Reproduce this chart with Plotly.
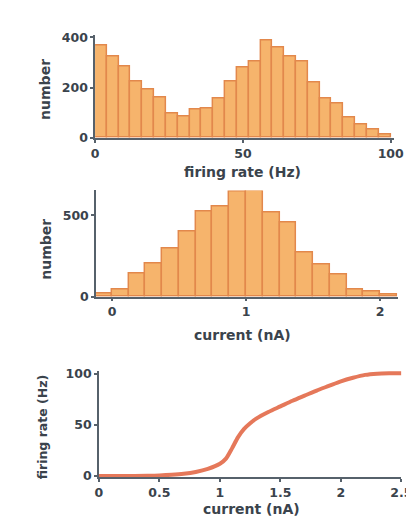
import plotly.graph_objects as go

# ---- data ----
rate_bin_centers = [2, 6, 10, 14, 18, 22, 26, 30, 34, 38, 42, 46, 50, 54, 58, 62, 66, 70, 74, 78, 82, 86, 90, 94, 98]
rate_counts = [370, 326, 284, 223, 194, 159, 99, 87, 112, 116, 155, 223, 280, 303, 387, 361, 323, 306, 219, 155, 138, 81, 52, 32, 13]
rate_bin_width = 4

current_bin_centers = [-0.0625, 0.0625, 0.1875, 0.3125, 0.4375, 0.5625, 0.6875, 0.8125, 0.9375,
                       1.0625, 1.1875, 1.3125, 1.4375, 1.5625, 1.6875, 1.8125, 1.9375, 2.0625]
current_counts = [20, 46, 146, 206, 294, 400, 526, 554, 650, 652, 520, 460, 270, 200, 140, 46, 34, 14]
current_bin_width = 0.125

fi_current = [0, 0.2, 0.4, 0.5, 0.6, 0.7, 0.8, 0.9, 1.0, 1.05, 1.1, 1.15, 1.2, 1.25, 1.3, 1.4,
              1.5, 1.6, 1.7, 1.8, 1.9, 2.0, 2.1, 2.2, 2.3, 2.4, 2.5]
fi_rate = [0, 0, 0.3, 0.6, 1.2, 2.2, 4, 7, 12, 17, 27, 38, 46, 51.5, 56, 62.5,
           68, 73.5, 78.5, 83.5, 88, 92.5, 96, 98.8, 100, 100.4, 100.5]

W, H = 414, 516
BAR_FILL = "#F6B46C"
BAR_EDGE = "#E2884C"
LINE_COL = "#E5785A"
AX_COL = "#56616b"
TXT_COL = "#3a434c"
FONT = "DejaVu Sans"

def px_x(p):
    return p / W

def px_y(p):
    return 1 - p / H

fig = go.Figure()
fig.add_trace(go.Bar(x=rate_bin_centers, y=rate_counts, width=rate_bin_width,
                     marker=dict(color=BAR_FILL, line=dict(color=BAR_EDGE, width=1.5)),
                     xaxis="x", yaxis="y", showlegend=False))
fig.add_trace(go.Bar(x=current_bin_centers, y=current_counts, width=current_bin_width,
                     marker=dict(color=BAR_FILL, line=dict(color=BAR_EDGE, width=1.5)),
                     xaxis="x2", yaxis="y2", showlegend=False))
fig.add_trace(go.Scatter(x=fi_current, y=fi_rate, mode="lines",
                         line=dict(color=LINE_COL, width=4, shape="spline", smoothing=0.8),
                         xaxis="x3", yaxis="y3", showlegend=False))

tickfont = dict(family=FONT, size=12.5, color=TXT_COL, weight="bold")
axis_common = dict(showline=True, linecolor=AX_COL, linewidth=1.5, ticks="outside",
                   ticklen=3, tickwidth=1.5, tickcolor=AX_COL, showgrid=False,
                   zeroline=False, tickfont=tickfont, fixedrange=True)

fig.update_layout(
    width=W, height=H, margin=dict(l=0, r=0, t=0, b=0),
    paper_bgcolor="white", plot_bgcolor="white", bargap=0,
    xaxis=dict(domain=[px_x(86), px_x(395)], range=[0, 101], tickvals=[0, 50, 100],
               anchor="y", **axis_common),
    yaxis=dict(domain=[px_y(127), px_y(22)], range=[0, 408], tickvals=[0, 200, 400],
               anchor="x", **axis_common),
    xaxis2=dict(domain=[px_x(87), px_x(400)], range=[-0.119, 2.137], tickvals=[0, 1, 2],
                anchor="y2", **axis_common),
    yaxis2=dict(domain=[px_y(290), px_y(181)], range=[0, 654], tickvals=[0, 500],
                anchor="x2", **axis_common),
    xaxis3=dict(domain=[px_x(90), px_x(403)], range=[0, 2.5],
                tickvals=[0, 0.5, 1, 1.5, 2, 2.5], ticktext=["0", "0.5", "1", "1.5", "2", "2.5"],
                anchor="y3", **axis_common),
    yaxis3=dict(domain=[px_y(475), px_y(366)], range=[-1, 102.8], tickvals=[0, 50, 100],
                anchor="x3", **axis_common),
)

titles = [
    ("firing rate (Hz)", 239, 162, 0, 14),
    ("number", 34, 77, -90, 14),
    ("current (nA)", 239, 329, 0, 14),
    ("number", 35, 241, -90, 14),
    ("current (nA)", 248, 508, 0, 14),
    ("firing rate (Hz)", 31, 424, -90, 12.5),
]
for text, x, y, ang, size in titles:
    fig.add_annotation(text=text, x=px_x(x), y=px_y(y), xref="paper", yref="paper",
                       showarrow=False, textangle=ang,
                       font=dict(family=FONT, size=size, color=TXT_COL, weight="bold"),
                       xanchor="center", yanchor="middle")

fig.write_html("out.html")
